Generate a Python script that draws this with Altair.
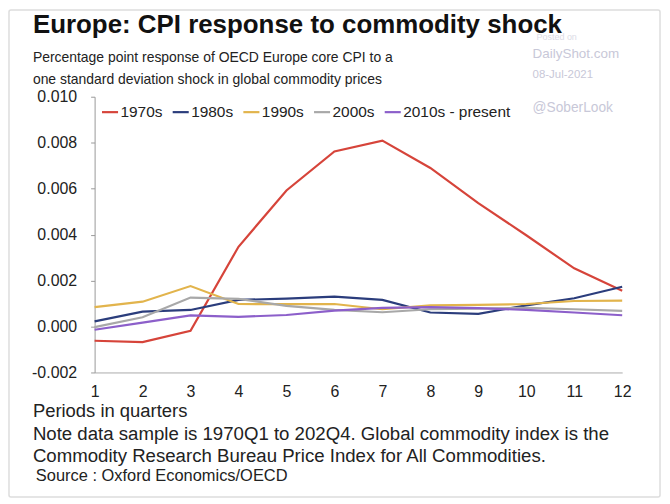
import altair as alt
import pandas as pd

quarters = list(range(1, 13))
series_names = ["1970s", "1980s", "1990s", "2000s", "2010s - present"]
s1970 = [-0.00062, -0.00068, -0.00019, 0.00347, 0.00592, 0.00762, 0.00809, 0.0069, 0.00537, 0.00397, 0.00253, 0.00156]
s1980 = [0.00022, 0.00065, 0.00072, 0.00116, 0.00121, 0.0013, 0.00116, 0.00061, 0.00055, 0.00092, 0.00123, 0.00173]
s1990 = [0.00084, 0.00108, 0.00176, 0.00098, 0.00097, 0.00098, 0.00075, 0.00092, 0.00094, 0.00098, 0.00111, 0.00113]
s2000 = [-0.00003, 0.0004, 0.00126, 0.0012, 0.0009, 0.00072, 0.00062, 0.00075, 0.00078, 0.00081, 0.00075, 0.00068]
s2010 = [-0.00014, 0.00017, 0.00048, 0.00042, 0.0005, 0.00069, 0.00081, 0.00084, 0.0008, 0.00072, 0.00061, 0.00049]
colors = ["#d6443a", "#2b3d7c", "#e2b44c", "#a8a8a8", "#8c5fca"]

rows = []
for name, vals in zip(series_names, [s1970, s1980, s1990, s2000, s2010]):
    for q, v in zip(quarters, vals):
        rows.append({"quarter": q, "value": v, "series": name})
df = pd.DataFrame(rows)

FONT = "Liberation Sans"
W, H = 530, 277

lines = alt.Chart(df).mark_line(strokeWidth=2.2).encode(
    x=alt.X("quarter:Q", scale=alt.Scale(domain=[1, 12], nice=False, zero=False),
            axis=alt.Axis(values=quarters, title=None, ticks=False, grid=False,
                          labelPadding=11, labelFontSize=16, labelFont=FONT,
                          labelColor="#222", domainColor="#aaa", labelFlush=False)),
    y=alt.Y("value:Q", scale=alt.Scale(domain=[-0.002, 0.010], nice=False),
            axis=alt.Axis(values=[-0.002, 0, 0.002, 0.004, 0.006, 0.008, 0.010],
                          labelExpr="replace(format(datum.value, '.3f'), '\u2212', '-')",
                          title=None, grid=False, tickSize=4, tickColor="#999",
                          domainColor="#999", labelFontSize=16, labelFont=FONT,
                          labelColor="#222", labelPadding=14)),
    color=alt.Color("series:N", sort=series_names,
                    scale=alt.Scale(domain=series_names, range=colors),
                    legend=alt.Legend(title=None, orient="none", legendX=6, legendY=6,
                                      direction="horizontal", symbolType="stroke",
                                      symbolSize=260, symbolStrokeWidth=2.2,
                                      labelFontSize=15.5, labelFont=FONT, labelColor="#222",
                                      columnPadding=5, labelOffset=1)),
)

one = alt.Data(values=[{}])

def txt(s, x, y, size, color="#222", bold=False, font=FONT):
    return alt.Chart(one).mark_text(
        text=s, align="left", baseline="alphabetic", fontSize=size, font=font,
        fontWeight="bold" if bold else "normal", color=color
    ).encode(x=alt.value(x), y=alt.value(y))

frame = alt.Chart(one).mark_rect(
    fill="transparent", stroke="#dddddd", strokeWidth=1.5, cornerRadius=2
).encode(x=alt.value(-86), x2=alt.value(568), y=alt.value(-87), y2=alt.value(402))

texts = [
    txt("Posted on", 444, -57, 9, "#dcdce6"),
    txt("Europe: CPI response to commodity shock", -62, -64, 26, "#111", bold=True),
    txt("Percentage point response of OECD Europe core CPI to a", -62, -35, 14),
    txt("one standard deviation shock in global commodity prices", -62, -13, 14),
    txt("DailyShot.com", 440, -39, 13.5, "#c8c8d8"),
    txt("08-Jul-2021", 440, -19, 11.5, "#c8c8d8"),
    txt("@SoberLook", 440, 15, 13.8, "#c8c8d8"),
    txt("Periods in quarters", -62, 322, 18.5),
    txt("Note data sample is 1970Q1 to 202Q4. Global commodity index is the", -62, 345, 18.7),
    txt("Commodity Research Bureau Price Index for All Commodities.", -62, 367, 18.7),
    txt("Source : Oxford Economics/OECD", -59, 386, 16.5),
]

chart = alt.layer(frame, lines, *texts).properties(
    width=W, height=H,
    autosize=alt.AutoSizeParams(type="none"),
    padding={"left": 87, "top": 88, "right": 40, "bottom": 127},
    background="white",
).configure_view(strokeWidth=0)

chart.save("out.html", embed_options={"renderer": "svg", "actions": False})
